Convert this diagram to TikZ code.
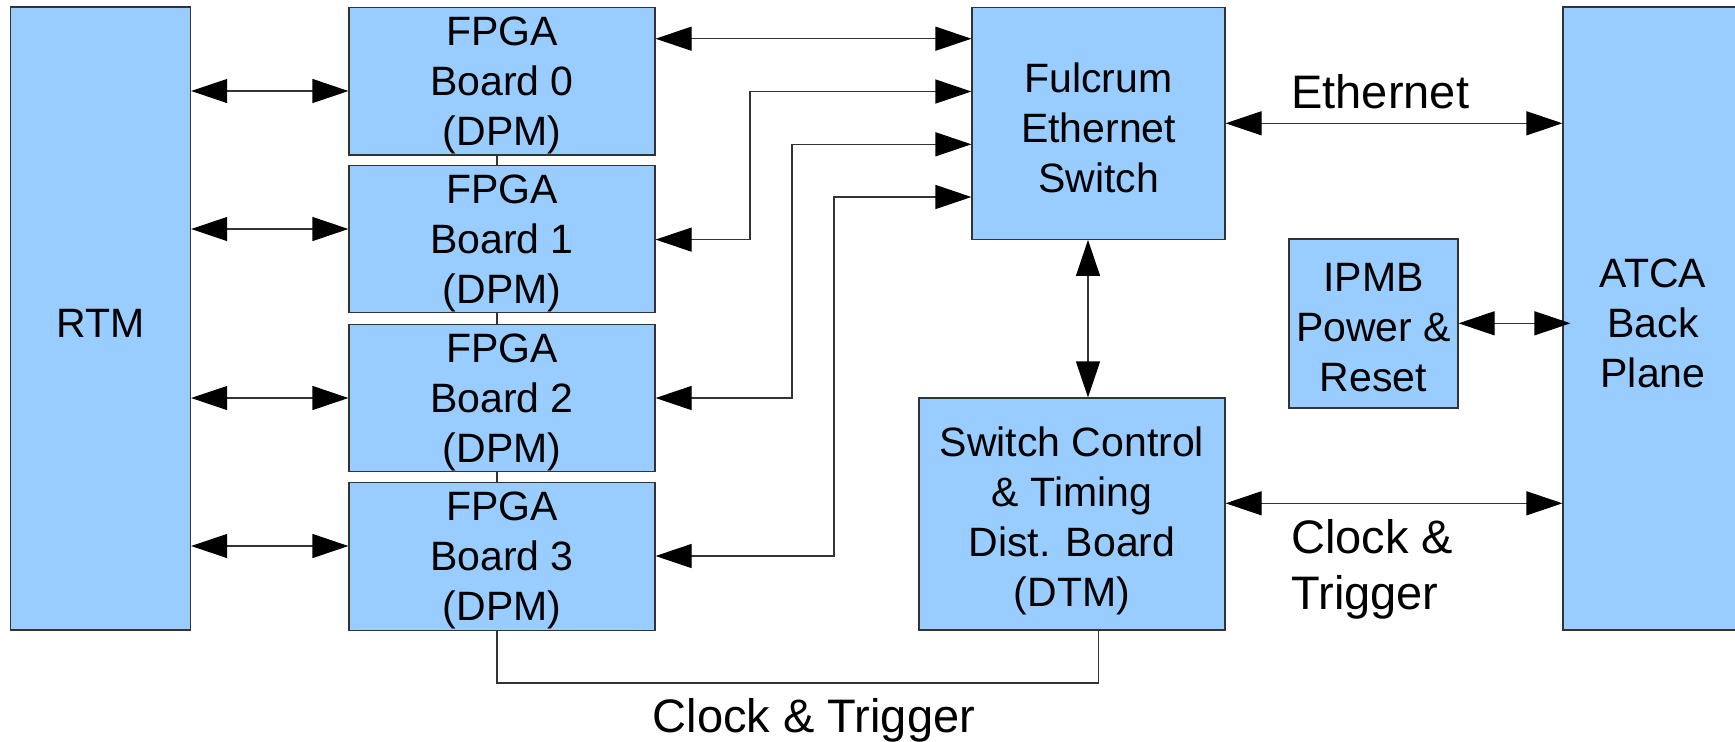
\documentclass[tikz,border=0pt]{standalone}
\usepackage{fontspec}
\setmainfont{Liberation Sans}
\usetikzlibrary{arrows.meta}
\definecolor{boxblue}{HTML}{99CCFF}
\definecolor{linegray}{HTML}{333333}
\begin{document}
\begin{tikzpicture}[x=0.5pt,y=-0.5pt,
  box/.style={draw=linegray, fill=boxblue, line width=0.6pt, inner sep=0pt},
  boxtext/.style={align=center, inner sep=0pt, font=\fontsize{20.5}{25}\selectfont, yshift=-2.2pt},
  fpga/.style={box, minimum width=153pt, minimum height=73.75pt},
  link/.style={draw=linegray, line width=0.6pt},
  tip/.style={Triangle[length=18pt,width=12pt,color=black]},
  biarrow/.style={link, {Triangle[length=18pt,width=12pt,color=black]}-{Triangle[length=18pt,width=12pt,color=black]}},
  lbl/.style={font=\fontsize{23.5}{28}\selectfont, align=left, inner sep=0pt}]
\useasboundingbox (0,0) rectangle (1735,741);
\fill[white] (0,0) rectangle (1735,741);
\begin{scope}
\clip (0,0) rectangle (1735,741);
\node[box, minimum width=90pt, minimum height=311.5pt,
  label={[boxtext]center:RTM}] (rtm) at (100.6,318.5) {};
\node[fpga, label={[boxtext]center:{FPGA\\Board 0\\(DPM)}}] (f0) at (502,81.2) {};
\node[fpga, label={[boxtext]center:{FPGA\\Board 1\\(DPM)}}] (f1) at (502,239) {};
\node[fpga, label={[boxtext]center:{FPGA\\Board 2\\(DPM)}}] (f2) at (502,398) {};
\node[fpga, label={[boxtext]center:{FPGA\\Board 3\\(DPM)}}] (f3) at (502,556.5) {};
\node[box, minimum width=126.5pt, minimum height=116pt,
  label={[boxtext]center:{Fulcrum\\Ethernet\\Switch}}] (ful) at (1098.5,123.3) {};
\node[box, minimum width=153pt, minimum height=116pt,
  label={[boxtext, yshift=-1.3pt]center:{Switch Control\\\& Timing\\Dist. Board\\(DTM)}}] (dtm) at (1072,514) {};
\node[box, minimum width=84.5pt, minimum height=84.5pt,
  label={[boxtext]center:{IPMB\\Power \&\\Reset}}] (ipmb) at (1373.5,323.5) {};
\node[box, minimum width=90pt, minimum height=311.5pt,
  label={[boxtext]center:{ATCA\\Back\\Plane}}] (atca) at (1653,318.5) {};
\end{scope}

% RTM <-> FPGA boards
\draw[biarrow] (rtm.east |- 0,91) -- (f0.west |- 0,91);
\draw[biarrow] (rtm.east |- 0,229) -- (f1.west |- 0,229);
\draw[biarrow] (rtm.east |- 0,398) -- (f2.west |- 0,398);
\draw[biarrow] (rtm.east |- 0,546) -- (f3.west |- 0,546);

% FPGA boards <-> Fulcrum
\draw[biarrow] (f0.east |- 0,38.7) -- (ful.west |- 0,38.7);
\draw[biarrow] (f1.east |- 0,239.6) -- (750,239.6) -- (750,91.5) -- (ful.west |- 0,91.5);
\draw[biarrow] (f2.east |- 0,398) -- (792,398) -- (792,144.3) -- (ful.west |- 0,144.3);
\draw[biarrow] (f3.east |- 0,556) -- (834,556) -- (834,197) -- (ful.west |- 0,197);

% links between FPGA boards
\draw[link] (f0.south -| 497,0) -- (f1.north -| 497,0);
\draw[link] (f1.south -| 497,0) -- (f2.north -| 497,0);
\draw[link] (f2.south -| 497,0) -- (f3.north -| 497,0);
\draw[link] (f3.south -| 497,0) -- (497,683) -- (1098.6,683) -- (dtm.south -| 1098.6,0);

% Fulcrum <-> DTM, ATCA
\draw[biarrow] (ful.south -| 1088,0) -- (dtm.north -| 1088,0);
\draw[biarrow] (ful.east |- 0,123.3) -- (atca.west |- 0,123.3);
\draw[biarrow, shorten >=-4pt] (ipmb.east |- 0,323.3) -- (atca.west |- 0,323.3);
\draw[biarrow] (dtm.east |- 0,503.3) -- (atca.west |- 0,503.3);

% labels
\node[lbl, anchor=west] (eth) at (1291,92) {Ethernet};
\node[lbl, anchor=west] (ctr) at (1291,569) {Clock \&\\Trigger};
\node[lbl] (ctb) at (814,720) {Clock \& Trigger};
\end{tikzpicture}
\end{document}
